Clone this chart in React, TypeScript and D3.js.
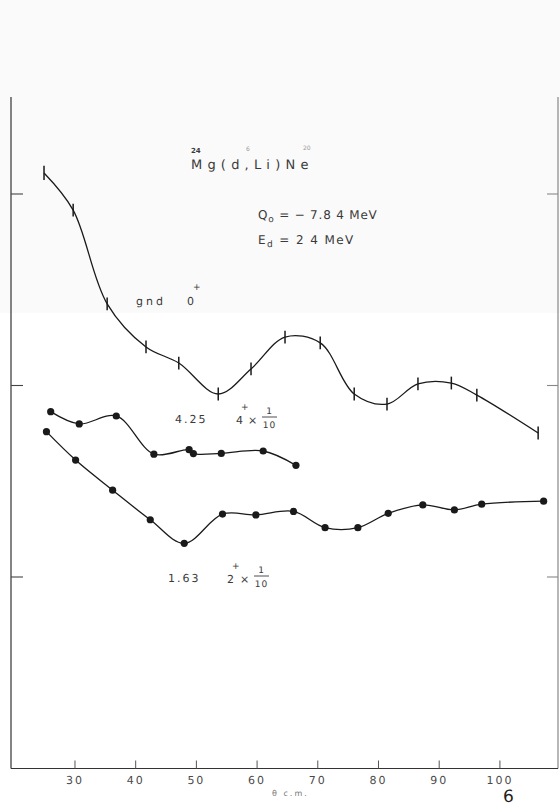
import React from "react";
import * as d3 from "d3";

// 24Mg(d,6Li)20Ne angular distributions, Ed = 24 MeV
const groundTheta = [24.9, 29.7, 35.3, 41.7, 47.1, 53.6, 59.0, 64.6, 70.4, 76.0, 81.4, 86.5, 92.0, 96.2, 106.3];
const groundSigma = [1.288, 0.824, 0.267, 0.159, 0.131, 0.0903, 0.122, 0.179, 0.167, 0.0903, 0.08, 0.102, 0.103, 0.0891, 0.0565];
const groundErr = [0.09, 0.08, 0.08, 0.08, 0.08, 0.08, 0.08, 0.08, 0.08, 0.08, 0.08, 0.08, 0.08, 0.08, 0.08];

const fourTheta = [26.0, 30.7, 36.8, 43.0, 48.8, 49.5, 54.1, 61.0, 66.4];
const fourSigma = [0.073, 0.063, 0.0693, 0.0438, 0.0462, 0.0441, 0.0442, 0.0455, 0.0383];

const twoTheta = [25.3, 30.1, 36.2, 42.4, 48.0, 54.3, 59.8, 66.0, 71.2, 76.6, 81.6, 87.3, 92.5, 97.0, 107.2];
const twoSigma = [0.0574, 0.0408, 0.0284, 0.0199, 0.015, 0.0213, 0.0211, 0.022, 0.0181, 0.0181, 0.0215, 0.0238, 0.0224, 0.024, 0.0249];

const xTicks = [30, 40, 50, 60, 70, 80, 90, 100];
const yTicks = [0.01, 0.1, 1];

const W = 560;
const H = 807;
const left = 11;
const right = 558;
const top = 97;
const bottom = 768.5;

const x = d3.scaleLinear().domain([19.46, 109.57]).range([left, right]);
const y = d3.scaleLog().domain([0.001, 3.21]).range([bottom, top]);

const zip = (t: number[], s: number[]) => t.map((v, i) => [v, s[i]] as [number, number]);

const line = d3
  .line<[number, number]>()
  .x((d) => x(d[0]))
  .y((d) => y(d[1]))
  .curve(d3.curveCatmullRom.alpha(0.5));

const ink = "#1a1a1a";
const textInk = "#3a3a3a";
const font = "'DejaVu Sans', 'Liberation Sans', sans-serif";

export default function App() {
  const ground = zip(groundTheta, groundSigma);
  const four = zip(fourTheta, fourSigma);
  const two = zip(twoTheta, twoSigma);

  return (
    <svg
      width={W}
      height={H}
      viewBox={`0 0 ${W} ${H}`}
      style={{ position: "fixed", left: 0, top: 0, background: "#ffffff" }}
      fontFamily={font}
      textRendering="geometricPrecision"
    >
      <rect x={0} y={0} width={W} height={313} fill="#fafafa" />
      <rect x={0} y={313} width={W} height={H - 313} fill="#ffffff" />

      {/* frame */}
      <line x1={left} y1={top} x2={left} y2={bottom} stroke="#333" strokeWidth={1.2} />
      <line x1={right} y1={top} x2={right} y2={bottom} stroke="#888" strokeWidth={1.2} />
      <line x1={left} y1={bottom} x2={right} y2={bottom} stroke="#333" strokeWidth={1.2} />

      {/* decade ticks */}
      {yTicks.map((t) => (
        <g key={t}>
          <line x1={left} x2={left + 12} y1={y(t)} y2={y(t)} stroke="#444" strokeWidth={1.1} />
          <line x1={right - 11} x2={right} y1={y(t)} y2={y(t)} stroke="#888" strokeWidth={1.1} />
        </g>
      ))}

      {/* angle ticks */}
      {xTicks.map((t) => (
        <g key={t}>
          <line x1={x(t)} x2={x(t)} y1={bottom} y2={bottom - 8} stroke="#555" strokeWidth={1} />
          <text
            x={x(t)}
            y={784}
            fontSize={11}
            textAnchor="middle"
            fill="#4a4a4a"
            letterSpacing={2}
          >
            {String(t)}
          </text>
        </g>
      ))}
      <text x={272} y={796} fontSize={8} fill="#777" letterSpacing={2}>
        θ c.m.
      </text>
      <text x={503} y={802} fontSize={17} fill="#222">
        6
      </text>

      {/* curves */}
      <path d={line(ground) ?? ""} fill="none" stroke={ink} strokeWidth={1.3} />
      <path d={line(four) ?? ""} fill="none" stroke={ink} strokeWidth={1.3} />
      <path d={line(two) ?? ""} fill="none" stroke={ink} strokeWidth={1.3} />

      {/* ground state error bars */}
      {ground.map((d, i) => (
        <line
          key={i}
          x1={x(d[0])}
          x2={x(d[0])}
          y1={y(d[1] * (1 + groundErr[i]))}
          y2={y(d[1] / (1 + groundErr[i]))}
          stroke={ink}
          strokeWidth={1.5}
        />
      ))}

      {/* excited state points */}
      {four.map((d, i) => (
        <circle key={i} cx={x(d[0])} cy={y(d[1])} r={3.6} fill={ink} />
      ))}
      {two.map((d, i) => (
        <circle key={i} cx={x(d[0])} cy={y(d[1])} r={3.6} fill={ink} />
      ))}

      {/* reaction */}
      <g fill={textInk}>
        <text x={191} y={153} fontSize={7} fontWeight="bold">24</text>
        <text x={191} y={169} fontSize={13} letterSpacing={5.2}>Mg(d,Li)Ne</text>
        <text x={246} y={151} fontSize={6} fill="#999">6</text>
        <text x={303} y={150} fontSize={6} fill="#999">20</text>

        <text x={258} y={219} fontSize={12} letterSpacing={0.8}>
          Q<tspan fontSize={9} dy={3}>o</tspan>
          <tspan dy={-3}> = − 7.8 4 MeV</tspan>
        </text>
        <text x={258} y={244} fontSize={12} letterSpacing={1.4}>
          E<tspan fontSize={9} dy={3}>d</tspan>
          <tspan dy={-3}> = 2 4 MeV</tspan>
        </text>

        {/* ground state label */}
        <text x={136} y={305} fontSize={11} letterSpacing={3}>gnd</text>
        <text x={187} y={305} fontSize={11}>0</text>
        <text x={193} y={290} fontSize={9}>+</text>

        {/* 4+ label */}
        <text x={175} y={423} fontSize={11} letterSpacing={2}>4.25</text>
        <text x={236} y={424} fontSize={11}>4</text>
        <text x={241} y={410} fontSize={9}>+</text>
        <text x={248} y={424} fontSize={11}>×</text>
        <text x={269} y={414} fontSize={9} textAnchor="middle">1</text>
        <line x1={262} x2={277} y1={417} y2={417} stroke={textInk} strokeWidth={0.9} />
        <text x={269.5} y={428} fontSize={9} textAnchor="middle" letterSpacing={1}>10</text>

        {/* 2+ label */}
        <text x={168} y={582} fontSize={11} letterSpacing={2}>1.63</text>
        <text x={227} y={583} fontSize={11}>2</text>
        <text x={232} y={569} fontSize={9}>+</text>
        <text x={240} y={583} fontSize={11}>×</text>
        <text x={261} y={573} fontSize={9} textAnchor="middle">1</text>
        <line x1={254} x2={269} y1={576} y2={576} stroke={textInk} strokeWidth={0.9} />
        <text x={261.5} y={587} fontSize={9} textAnchor="middle" letterSpacing={1}>10</text>
      </g>
    </svg>
  );
}
